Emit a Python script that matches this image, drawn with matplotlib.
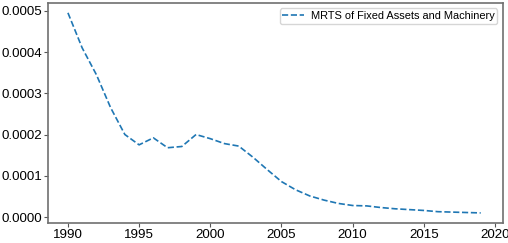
import numpy as np
import matplotlib
matplotlib.use("Agg")
import matplotlib.pyplot as plt

plt.rcParams['font.family'] = ['Liberation Sans', 'DejaVu Sans']

years = list(range(1990, 2020))
mrts = [0.000495, 0.000410, 0.000345, 0.000265, 0.000200, 0.000175, 0.000192, 0.000168,
        0.000171, 0.000200, 0.000190, 0.000178, 0.000172, 0.000145, 0.000115, 0.000086,
        0.000066, 0.000051, 0.000041, 0.000033, 0.000028, 0.000027, 0.000023, 0.000020,
        0.000018, 0.000016, 0.000013, 0.000012, 0.000011, 0.000010]

fig, ax = plt.subplots(figsize=(5.08, 2.43), dpi=100)
ax.plot(years, mrts, '--', color='#1f77b4', lw=1.2, label='MRTS of Fixed Assets and Machinery')
ax.set_xticks([1990, 1995, 2000, 2005, 2010, 2015, 2020])
ax.set_yticks([0, 0.0001, 0.0002, 0.0003, 0.0004, 0.0005])
ax.set_yticklabels(['0.0000', '0.0001', '0.0002', '0.0003', '0.0004', '0.0005'])
ax.set_xlim(1988.6, 2020.56)
ax.set_ylim(-0.0000146, 0.000519)
ax.tick_params(labelsize=9.6, color='#555555', length=2.8, pad=1.2)
for s in ax.spines.values():
    s.set_color('#707070')
    s.set_linewidth(1.2)
leg = ax.legend(loc='upper right', fontsize=7.9, borderpad=0.25, handletextpad=0.6,
                borderaxespad=0.5)
leg.get_frame().set_edgecolor('#cccccc')
fig.subplots_adjust(left=0.0945, right=0.99, top=0.988, bottom=0.082)
fig.savefig('out.png')
